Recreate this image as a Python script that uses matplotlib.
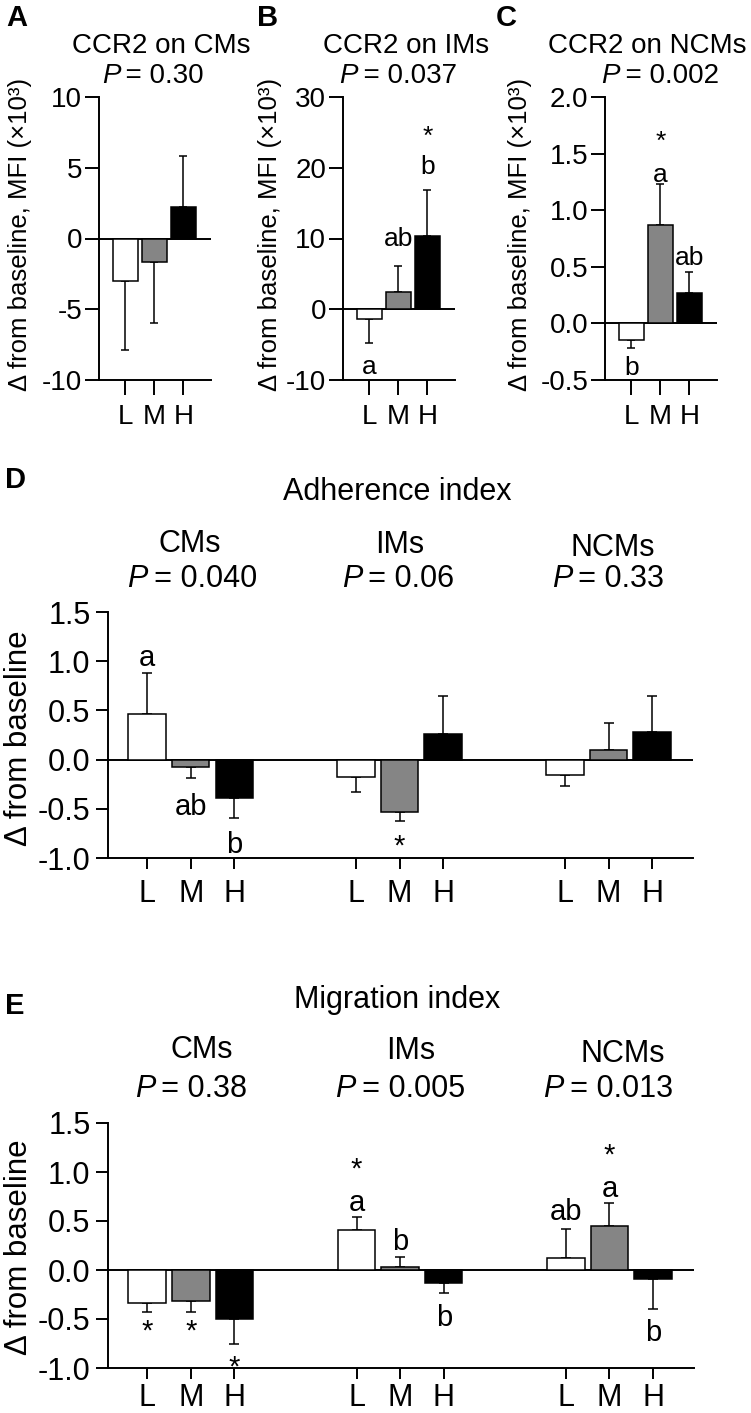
import matplotlib
matplotlib.use('Agg')
import matplotlib.pyplot as plt
from matplotlib.ticker import FormatStrFormatter, FixedLocator

plt.rcParams['font.family'] = ['Liberation Sans', 'DejaVu Sans']
plt.rcParams['axes.unicode_minus'] = False

# ---------------- data ----------------
doses = ['L', 'M', 'H']
bar_colors = ['white', '#858585', 'black']

# Panels A-C: CCR2 MFI change (x10^3)
ccr2_titles = ['CCR2 on CMs', 'CCR2 on IMs', 'CCR2 on NCMs']
ccr2_p = ['0.30', '0.037', '0.002']
ccr2_cm_mean = [-3.0, -1.65, 2.24]
ccr2_cm_sem = [4.9, 4.3, 3.56]
ccr2_im_mean = [-1.4, 2.4, 10.4]
ccr2_im_sem = [3.4, 3.7, 6.5]
ccr2_ncm_mean = [-0.15, 0.87, 0.27]
ccr2_ncm_sem = [0.07, 0.36, 0.18]
ccr2_ylims = [(-10, 10), (-10, 30), (-0.5, 2.0)]
ccr2_yticks = [[-10, -5, 0, 5, 10], [-10, 0, 10, 20, 30], [-0.5, 0.0, 0.5, 1.0, 1.5, 2.0]]
ccr2_fmt = ['%d', '%d', '%.1f']
# annotations: (dose index, text, y)
ccr2_annot = [
    [],
    [(0, 'a', -8.1), (1, 'ab', 10.0), (2, 'b', 20.1), (2, '*', 25.6)],
    [(0, 'b', -0.39), (1, 'a', 1.31), (1, '*', 1.68), (2, 'ab', 0.58)],
]

# Panels D-E
cell_types = ['CMs', 'IMs', 'NCMs']
adh_p = ['0.040', '0.06', '0.33']
adh_cm_mean = [0.46, -0.075, -0.39]
adh_cm_sem = [0.42, 0.115, 0.20]
adh_im_mean = [-0.18, -0.53, 0.26]
adh_im_sem = [0.15, 0.09, 0.39]
adh_ncm_mean = [-0.16, 0.10, 0.28]
adh_ncm_sem = [0.11, 0.27, 0.37]
adh_annot = [(0, 0, 'a', 1.03), (0, 1, 'ab', -0.48), (0, 2, 'b', -0.87), (1, 1, '*', -0.79)]

mig_p = ['0.38', '0.005', '0.013']
mig_cm_mean = [-0.34, -0.32, -0.50]
mig_cm_sem = [0.09, 0.11, 0.25]
mig_im_mean = [0.41, 0.03, -0.13]
mig_im_sem = [0.13, 0.10, 0.10]
mig_ncm_mean = [0.12, 0.45, -0.095]
mig_ncm_sem = [0.30, 0.23, 0.305]
mig_annot = [(0, 0, '*', -0.53), (0, 1, '*', -0.53), (0, 2, '*', -0.90),
             (1, 0, 'a', 0.68), (1, 0, '*', 1.12), (1, 1, 'b', 0.29), (1, 2, 'b', -0.49),
             (2, 0, 'ab', 0.59), (2, 1, 'a', 0.83), (2, 1, '*', 1.27), (2, 2, 'b', -0.64)]
index_yticks = [-1.0, -0.5, 0.0, 0.5, 1.0, 1.5]

# ---------------- layout ----------------
W, H = 751, 1413
fig = plt.figure(figsize=(W / 100, H / 100), dpi=100)
renderer = fig.canvas.get_renderer()

def px_axes(l, r, t, b):
    return fig.add_axes([l / W, 1 - b / H, (r - l) / W, (b - t) / H])

def ftext(x, y, s, **kw):
    return fig.text(x / W, 1 - y / H, s, **kw)

LW = 1.4
def style(ax, ylen, xlen, fs, ypad, xpad):
    for sp in ['top', 'right']:
        ax.spines[sp].set_visible(False)
    for sp in ['left', 'bottom']:
        ax.spines[sp].set_linewidth(LW)
    ax.tick_params(axis='y', length=ylen, width=LW, labelsize=fs, pad=ypad)
    ax.tick_params(axis='x', length=xlen, width=LW, labelsize=fs, pad=xpad)
    ax.axhline(0, color='black', lw=LW, zorder=1)

def draw_bars(ax, xs, means, sems, cap):
    for x, m, e, c in zip(xs, means, sems, bar_colors):
        ax.bar(x, m, width=0.86, color=c, edgecolor='black', linewidth=1.1, zorder=3)
        lo, hi = (e, 0) if m < 0 else (0, e)
        ax.errorbar(x, m, yerr=[[lo], [hi]], fmt='none', ecolor='black',
                    elinewidth=1.1, capsize=cap, capthick=1.1, zorder=2)

def annot(ax, x, y, s, fs):
    dy = -0.33 * fs if s == '*' else 0
    ax.annotate(s, (x, y), xytext=(0, dy), textcoords='offset points',
                ha='center', va='center', fontsize=fs, zorder=5)

def p_line(xc, yb, val, fs):
    t1 = ftext(0, yb, 'P', ha='left', va='baseline', fontsize=fs, style='italic')
    t2 = ftext(0, yb, '\u2009= ' + val, ha='left', va='baseline', fontsize=fs)
    w1 = t1.get_window_extent(renderer).width
    w2 = t2.get_window_extent(renderer).width
    x0 = xc - (w1 + w2) / 2
    t1.set_x(x0 / W)
    t2.set_x((x0 + w1) / W)

# ---- Panels A-C ----
ccr2_means = [ccr2_cm_mean, ccr2_im_mean, ccr2_ncm_mean]
ccr2_sems = [ccr2_cm_sem, ccr2_im_sem, ccr2_ncm_sem]
lefts = [99, 343, 605]
title_x = [161, 406, 647]
p_x = [153, 398, 660]
ylab_x = [20, 270, 520]
letters = ['A', 'B', 'C']
letter_x = [6, 257, 496]
FS1 = 20
for i in range(3):
    ax = px_axes(lefts[i], lefts[i] + 112, 97, 380)
    xs = [0, 1, 2]
    draw_bars(ax, xs, ccr2_means[i], ccr2_sems[i], 3)
    ax.set_xlim(-0.9, 2.95)
    ax.set_ylim(*ccr2_ylims[i])
    ax.yaxis.set_major_locator(FixedLocator(ccr2_yticks[i]))
    ax.yaxis.set_major_formatter(FormatStrFormatter(ccr2_fmt[i]))
    ax.set_xticks(xs)
    ax.set_xticklabels(doses)
    style(ax, 10, 10.5, FS1, 2.0, 6.5)
    for d, s, y in ccr2_annot[i]:
        annot(ax, d, y, s, FS1 - 1)
    ftext(title_x[i], 53, ccr2_titles[i], ha='center', va='baseline', fontsize=FS1)
    p_line(p_x[i], 83, ccr2_p[i], FS1)
    ftext(ylab_x[i], 234, 'Δ from baseline, MFI (×10³)', ha='center', va='center',
          rotation=90, fontsize=18.5)
    ftext(letter_x[i], 26, letters[i], ha='left', va='baseline', fontsize=21, fontweight='bold')

# ---- Panels D-E ----
FS2 = 22
gpos = [0, 4.8, 9.6]
def index_panel(top, bottom, right, means, sems, annots, pvals,
                title, title_y, ct_x, ct_y, p_x2, p_y, letter, letter_y, ylab_y, xpad):
    ax = px_axes(108, right, top, bottom)
    xs_all = []
    for g in range(3):
        xs = [gpos[g] + d for d in range(3)]
        xs_all += xs
        draw_bars(ax, xs, means[g], sems[g], 3.5)
    ax.set_xlim(-0.9, 12.54)
    ax.set_ylim(-1.0, 1.5)
    ax.yaxis.set_major_locator(FixedLocator(index_yticks))
    ax.yaxis.set_major_formatter(FormatStrFormatter('%.1f'))
    ax.set_xticks(xs_all)
    ax.set_xticklabels(doses * 3)
    style(ax, 8.6, 8, FS2, 4.0, xpad)
    for g, d, s, y in annots:
        annot(ax, gpos[g] + d, y, s, FS2 - 1)
    ftext(397, title_y, title, ha='center', va='baseline', fontsize=FS2)
    for g in range(3):
        ftext(ct_x[g], ct_y[g], cell_types[g], ha='center', va='baseline', fontsize=FS2)
        p_line(p_x2[g], p_y, pvals[g], FS2)
    ftext(5, letter_y, letter, ha='left', va='baseline', fontsize=21, fontweight='bold')
    ftext(19, ylab_y, 'Δ from baseline', ha='center', va='center', rotation=90, fontsize=22.5)

index_panel(612, 858, 693,
            [adh_cm_mean, adh_im_mean, adh_ncm_mean], [adh_cm_sem, adh_im_sem, adh_ncm_sem],
            adh_annot, adh_p, 'Adherence index', 500,
            [190, 400, 613], [552, 553, 556], [192, 398, 608], 587, 'D', 488, 738, 7.0)
index_panel(1123, 1368, 694,
            [mig_cm_mean, mig_im_mean, mig_ncm_mean], [mig_cm_sem, mig_im_sem, mig_ncm_sem],
            mig_annot, mig_p, 'Migration index', 1008,
            [202, 411, 623], [1058, 1059, 1062], [191, 400, 608], 1097, 'E', 1014, 1247, 2.5)

fig.savefig('out.png', dpi=100)
